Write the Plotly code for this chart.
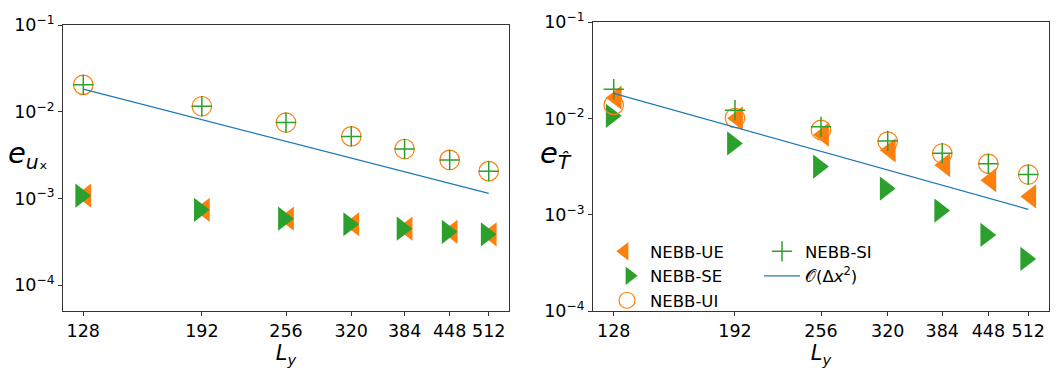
import math
import plotly.graph_objects as go

# Grid sizes
L_y = [128, 192, 256, 320, 384, 448, 512]

# Velocity error e_ux
ux_UE = [0.00108, 0.000741, 0.000586, 0.000505, 0.000449, 0.000413, 0.000386]
ux_SE = [0.00108, 0.000741, 0.000586, 0.000505, 0.000449, 0.000413, 0.000386]
ux_UI = [0.0205, 0.0116, 0.00753, 0.00521, 0.00373, 0.00279, 0.00207]
ux_SI = [0.0205, 0.0116, 0.00753, 0.00521, 0.00373, 0.00279, 0.00207]

# Temperature error e_T
T_UE = [0.0165, 0.0101, 0.00682, 0.00469, 0.0033, 0.0023, 0.00156]
T_SE = [0.0107, 0.00553, 0.00318, 0.00188, 0.00111, 0.00062, 0.00035]
T_UI = [0.0139, 0.01016, 0.00764, 0.00578, 0.00435, 0.0034, 0.00263]
T_SI = [0.0202, 0.01225, 0.00822, 0.00587, 0.00438, 0.0034, 0.00263]

# Second-order reference slope
ref_coef = 300.0
ref_line = [ref_coef / L ** 2 for L in L_y]

y_tickvals = [1e-4, 1e-3, 1e-2, 1e-1]
y_ticktext = ["10<sup>\u22124</sup>", "10<sup>\u22123</sup>", "10<sup>\u22122</sup>", "10<sup>\u22121</sup>"]

ORANGE = "#ff7f0e"
GREEN = "#2ca02c"
BLUE = "#1f77b4"
FONT = "DejaVu Sans"

TRI = 21  # triangle marker size
# triangle-up rotated sideways; the standoff recentres it on its bounding box
tri_shift = TRI / 8.0

fig = go.Figure()


def add_panel(xa, ya, ue, se, ui, si, show):
    fig.add_trace(go.Scatter(
        x=L_y, y=ue, mode="markers", name="NEBB-UE", xaxis=xa, yaxis=ya,
        marker=dict(symbol="triangle-up", angle=-90, standoff=tri_shift, size=TRI,
                    color=ORANGE, line=dict(width=0)),
        showlegend=show, legend="legend", legendgroup="a"))
    fig.add_trace(go.Scatter(
        x=L_y, y=se, mode="markers", name="NEBB-SE", xaxis=xa, yaxis=ya,
        marker=dict(symbol="triangle-up", angle=90, standoff=tri_shift, size=TRI,
                    color=GREEN, line=dict(width=0)),
        showlegend=show, legend="legend", legendgroup="b"))
    fig.add_trace(go.Scatter(
        x=L_y, y=ui, mode="markers", name="NEBB-UI", xaxis=xa, yaxis=ya,
        marker=dict(symbol="circle-open", size=19.5, color=ORANGE, line=dict(width=1.2, color=ORANGE)),
        showlegend=show, legend="legend", legendgroup="c"))
    fig.add_trace(go.Scatter(
        x=L_y, y=si, mode="markers", name="NEBB-SI", xaxis=xa, yaxis=ya,
        marker=dict(symbol="cross-thin-open", size=14.5, color=GREEN, line=dict(width=1.5, color=GREEN)),
        showlegend=show, legend="legend2", legendgroup="d"))
    fig.add_trace(go.Scatter(
        x=L_y, y=ref_line, mode="lines", name="\U0001D4AA(\u0394<i>x</i><sup>2</sup>)", xaxis=xa, yaxis=ya,
        line=dict(color=BLUE, width=1.2),
        showlegend=show, legend="legend2", legendgroup="e"))


add_panel("x", "y", ux_UE, ux_SE, ux_UI, ux_SI, False)
add_panel("x2", "y2", T_UE, T_SE, T_UI, T_SI, True)

xpad = 0.05 * (math.log10(512) - math.log10(128))
xrange = [math.log10(128) - xpad, math.log10(512) + xpad]

W, H = 1063, 374

xaxis_common = dict(
    type="log", range=xrange, tickvals=L_y, ticktext=[str(v) for v in L_y],
    showgrid=False, zeroline=False, showline=True, linecolor="#333", linewidth=1,
    mirror=True, ticks="outside", ticklen=4, tickcolor="#333",
    tickfont=dict(family=FONT, size=17.5, color="black"),
    title=dict(text="<i>L</i><sub><i>y</i></sub>", font=dict(family=FONT, size=21, color="black"), standoff=2),
)
yaxis_common = dict(
    type="log", tickvals=y_tickvals, ticktext=y_ticktext,
    showgrid=False, zeroline=False, showline=True, linecolor="#333", linewidth=1,
    mirror=True, ticks="outside", ticklen=4, tickcolor="#333",
    tickfont=dict(family=FONT, size=17.5, color="black"),
)

legend_common = dict(xanchor="left", yanchor="top", bgcolor="rgba(0,0,0,0)",
                     font=dict(family=FONT, size=16.5), tracegroupgap=0, itemwidth=36)

fig.update_layout(
    width=W, height=H,
    margin=dict(l=0, r=0, t=0, b=0),
    paper_bgcolor="white", plot_bgcolor="white",
    font=dict(family=FONT, color="black"),
    xaxis=dict(domain=[63 / W, 509 / W], anchor="y", **xaxis_common),
    yaxis=dict(domain=[1 - 318 / H, 1 - 14 / H], anchor="x", range=[math.log10(5e-5), -1], **yaxis_common),
    xaxis2=dict(domain=[593 / W, 1049 / W], anchor="y2", **xaxis_common),
    yaxis2=dict(domain=[1 - 318 / H, 1 - 11 / H], anchor="x2", range=[-4, -1], **yaxis_common),
    legend=dict(x=604 / W, y=1 - 236 / H, **legend_common),
    legend2=dict(x=759 / W, y=1 - 236 / H, **legend_common),
    annotations=[
        dict(text="<i>e</i><sub><i>u</i>\u2093</sub>", x=6 / W, y=1 - 152 / H, xref="paper", yref="paper",
             xanchor="left", yanchor="middle", showarrow=False, font=dict(family=FONT, size=29)),
        dict(text="<i>e</i><sub><i>T\u0302</i></sub>", x=538 / W, y=1 - 152 / H, xref="paper", yref="paper",
             xanchor="left", yanchor="middle", showarrow=False, font=dict(family=FONT, size=29)),
    ],
)

fig.write_html("out.html")
